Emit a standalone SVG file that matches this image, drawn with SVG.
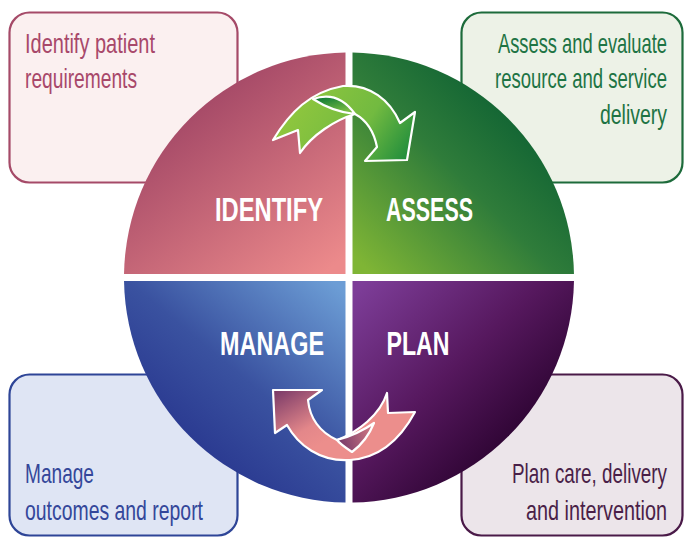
<svg xmlns="http://www.w3.org/2000/svg" width="684" height="539" viewBox="0 0 684 539">
<style>
.box{stroke-width:2.2}
.note{font-family:"Liberation Sans",Arial,sans-serif;font-size:27px}
.lbl{font-family:"Liberation Sans",Arial,sans-serif;font-size:33px;font-weight:bold;fill:#ffffff}
.arrow{stroke:#ffffff;stroke-width:2.2;stroke-linejoin:round}
</style>
<defs>
<linearGradient id="gId" gradientUnits="userSpaceOnUse" x1="190" y1="70" x2="335" y2="265">
<stop offset="0" stop-color="#9b4062"/><stop offset="1" stop-color="#ec8a8b"/>
</linearGradient>
<linearGradient id="gAs" gradientUnits="userSpaceOnUse" x1="530" y1="95" x2="362" y2="265">
<stop offset="0" stop-color="#0a5e32"/><stop offset="0.45" stop-color="#2f7c3a"/><stop offset="1" stop-color="#7fb535"/>
</linearGradient>
<linearGradient id="gMa" gradientUnits="userSpaceOnUse" x1="340" y1="288" x2="200" y2="455">
<stop offset="0" stop-color="#6c9dd5"/><stop offset="0.6" stop-color="#3a52a0"/><stop offset="1" stop-color="#2a3990"/>
</linearGradient>
<linearGradient id="gPl" gradientUnits="userSpaceOnUse" x1="358" y1="288" x2="515" y2="450">
<stop offset="0" stop-color="#7d3d98"/><stop offset="0.55" stop-color="#56185e"/><stop offset="1" stop-color="#2b0330"/>
</linearGradient>
<linearGradient id="gArrG" gradientUnits="userSpaceOnUse" x1="300" y1="95" x2="410" y2="165">
<stop offset="0" stop-color="#8fc63e"/><stop offset="0.55" stop-color="#72ba40"/><stop offset="1" stop-color="#17883c"/>
</linearGradient>
<linearGradient id="gFoldG" gradientUnits="userSpaceOnUse" x1="330" y1="94" x2="335" y2="114">
<stop offset="0" stop-color="#077535"/><stop offset="1" stop-color="#79bd43"/>
</linearGradient>
<linearGradient id="gArrP" gradientUnits="userSpaceOnUse" x1="285" y1="385" x2="320" y2="445">
<stop offset="0" stop-color="#7a3a68"/><stop offset="0.7" stop-color="#e3878a"/><stop offset="1" stop-color="#ec8e8c"/>
</linearGradient>
<linearGradient id="gFoldP" gradientUnits="userSpaceOnUse" x1="340" y1="440" x2="375" y2="430">
<stop offset="0" stop-color="#7c3d6b"/><stop offset="1" stop-color="#d57c84"/>
</linearGradient>
</defs>

<g id="box-identify">
<rect class="box" x="9.5" y="12.5" width="228" height="170" rx="20" fill="#fbf0f0" stroke="#a54a68"/>
<text class="note" fill="#a8486a" transform="scale(0.7,1)"><tspan x="35.71" y="53" textLength="185.7" lengthAdjust="spacingAndGlyphs">Identify patient</tspan><tspan x="35.71" y="88.5" textLength="160" lengthAdjust="spacingAndGlyphs">requirements</tspan></text>
</g>
<g id="box-assess">
<rect class="box" x="461.5" y="12.5" width="221" height="170" rx="20" fill="#edf2e7" stroke="#1d6b3b"/>
<text class="note" fill="#1e7444" transform="scale(0.7,1)"><tspan x="711.43" y="53" textLength="241.43" lengthAdjust="spacingAndGlyphs">Assess and evaluate</tspan><tspan x="707.14" y="88.5" textLength="245.71" lengthAdjust="spacingAndGlyphs">resource and service</tspan><tspan x="857.14" y="124" textLength="95.71" lengthAdjust="spacingAndGlyphs">delivery</tspan></text>
</g>
<g id="box-manage">
<rect class="box" x="9.5" y="374.5" width="228" height="161" rx="20" fill="#dfe5f4" stroke="#2e4597"/>
<text class="note" fill="#34479a" transform="scale(0.7,1)"><tspan x="35.71" y="483" textLength="98.57" lengthAdjust="spacingAndGlyphs">Manage</tspan><tspan x="35.71" y="520" textLength="254.29" lengthAdjust="spacingAndGlyphs">outcomes and report</tspan></text>
</g>
<g id="box-plan">
<rect class="box" x="461.5" y="374.5" width="221" height="161" rx="20" fill="#ece5ea" stroke="#4a1a48"/>
<text class="note" fill="#4a1f48" transform="scale(0.7,1)"><tspan x="731.43" y="483" textLength="221.43" lengthAdjust="spacingAndGlyphs">Plan care, delivery</tspan><tspan x="751.43" y="520" textLength="201.43" lengthAdjust="spacingAndGlyphs">and intervention</tspan></text>
</g>

<g id="quad-identify">
<path d="M345.5,274 L124.03,274 A225,225 0 0 1 345.5,52.53 Z" fill="url(#gId)"/>
<text class="lbl" transform="scale(0.75,1)" x="286.67" y="221" textLength="144" lengthAdjust="spacingAndGlyphs">IDENTIFY</text>
</g>
<g id="quad-assess">
<path d="M352.5,274 L352.5,52.53 A225,225 0 0 1 573.97,274 Z" fill="url(#gAs)"/>
<text class="lbl" transform="scale(0.75,1)" x="514.67" y="221" textLength="116" lengthAdjust="spacingAndGlyphs">ASSESS</text>
</g>
<g id="quad-manage">
<path d="M345.5,281 L345.5,502.47 A225,225 0 0 1 124.03,281 Z" fill="url(#gMa)"/>
<text class="lbl" transform="scale(0.75,1)" x="293.33" y="355.5" textLength="138.67" lengthAdjust="spacingAndGlyphs">MANAGE</text>
</g>
<g id="quad-plan">
<path d="M352.5,281 L573.97,281 A225,225 0 0 1 352.5,502.47 Z" fill="url(#gPl)"/>
<text class="lbl" transform="scale(0.75,1)" x="515.33" y="355.5" textLength="84" lengthAdjust="spacingAndGlyphs">PLAN</text>
</g>

<g id="connectors">
<g id="arrow-top">
<path class="arrow" fill="url(#gArrG)" d="M273,140 C290,112 310,92 343,86 C370,84 390,100 400,123 L415,112 L407,160 L365,161 L377,147 C374,132 366,120 355,114 C335,120 312,135 300,153 L298,130 Z"/>
<path class="arrow" fill="url(#gFoldG)" d="M313,99 Q338,90 355,114 Q333,112 313,99 Z"/>
</g>
<g id="arrow-bottom">
<path class="arrow" fill="url(#gArrP)" d="M273,390 L322,390 L308,400 C310,420 322,433 337,440 C358,432 380,415 387,393 L388,413 L415,412 C400,440 380,458 350,460 C320,462 298,445 287,425 L275,433 Z"/>
<path class="arrow" fill="url(#gFoldP)" d="M337,440 C352,436 364,430 374,423 C368,438 360,446 352,452 C346,448 340,444 337,440 Z"/>
</g>
</g>
</svg>
